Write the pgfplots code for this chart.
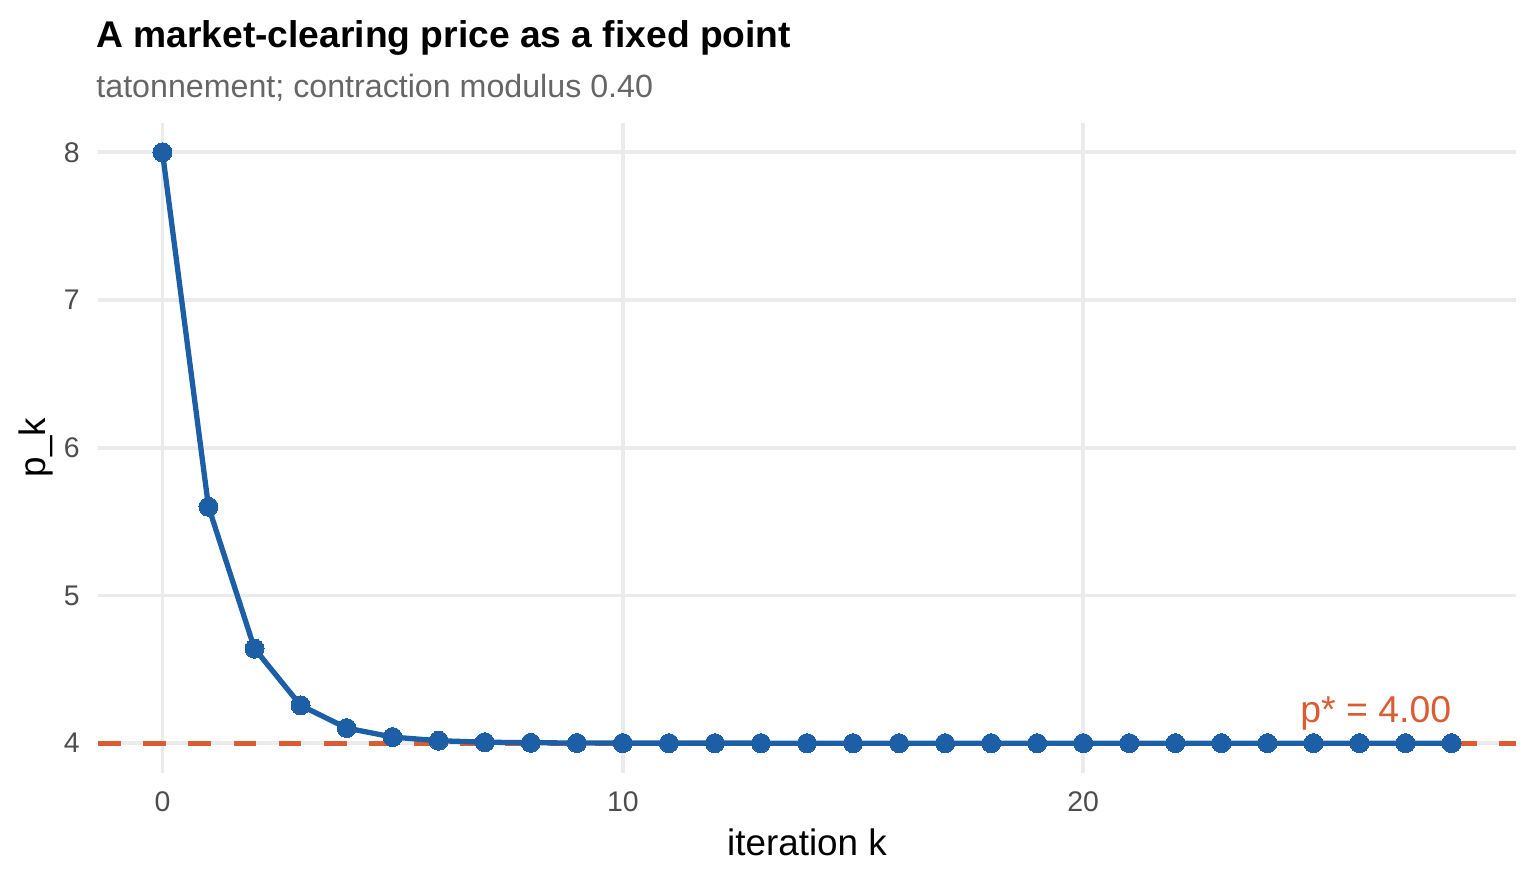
\documentclass[border=0pt]{standalone}
\usepackage{fontspec}
\setmainfont{Liberation Sans}
\usepackage{pgfplots}
\pgfplotsset{compat=1.18}
\definecolor{lineblue}{RGB}{28,95,166}
\definecolor{refred}{RGB}{218,92,50}
\definecolor{gridgray}{RGB}{235,235,235}
\definecolor{tickgray}{RGB}{77,77,77}
\definecolor{subgray}{RGB}{102,102,102}
\begin{document}
\begin{tikzpicture}
\path[use as bounding box] (-49bp,-55.15bp) rectangle (719bp,386.35bp);
\begin{axis}[
  name=ax,
  at={(0,0)}, anchor=south west,
  scale only axis,
  width=709bp, height=325bp,
  xmin=-1.4, xmax=29.4,
  ymin=3.8, ymax=8.2,
  xtick={0,10,20}, ytick={4,5,6,7,8},
  axis line style={draw=none},
  tick style={draw=none},
  grid=major,
  major grid style={color=gridgray, line width=1.8bp},
  /pgf/number format/assume math mode=true,
  tick label style={font=\fontsize{14.2bp}{17bp}\selectfont, text=tickgray, inner sep=0pt},
  xticklabel style={anchor=north, yshift=-9.5bp},
  yticklabel style={anchor=east, xshift=-9bp},
  clip=false,
]
\addplot[refred, line width=2.5bp, dash pattern=on 11.3bp off 11.3bp] coordinates {(-1.4,4) (29.4,4)};
\addplot[lineblue, line width=2.65bp, mark=*, mark size=4.75bp, mark options={solid, fill=lineblue, draw=lineblue, line width=0pt}] coordinates {
(0,8) (1,5.6) (2,4.64) (3,4.256) (4,4.1024) (5,4.04096) (6,4.016384) (7,4.0065536)
(8,4.00262144) (9,4.00104858) (10,4.00041943) (11,4.00016777) (12,4.00006711)
(13,4.00002684) (14,4.00001074) (15,4.0000043) (16,4.0000017) (17,4.0000007)
(18,4.0000003) (19,4.0000001) (20,4.0000000) (21,4) (22,4) (23,4) (24,4)
(25,4) (26,4) (27,4) (28,4)};
\node[anchor=base east, inner sep=0pt, text=refred, font=\fontsize{18.7bp}{22bp}\selectfont] at (axis cs:28,4) [yshift=10.15bp] {p* = 4.00};
\end{axis}
\node[anchor=base west, inner sep=0pt, font=\fontsize{18.6bp}{22bp}\selectfont\bfseries] at (-1bp,362.65bp) {A market-clearing price as a fixed point};
\node[anchor=base west, inner sep=0pt, text=subgray, font=\fontsize{16.1bp}{19bp}\selectfont] at (-1bp,337.65bp) {tatonnement; contraction modulus 0.40};
\node[anchor=base, inner sep=0pt, font=\fontsize{18.4bp}{21bp}\selectfont] at (354.5bp,-41.15bp) {iteration k};
\node[anchor=base, rotate=90, inner sep=0pt, font=\fontsize{18.4bp}{21bp}\selectfont] at (-26.5bp,162.5bp) {p\_k};
\end{tikzpicture}
\end{document}
